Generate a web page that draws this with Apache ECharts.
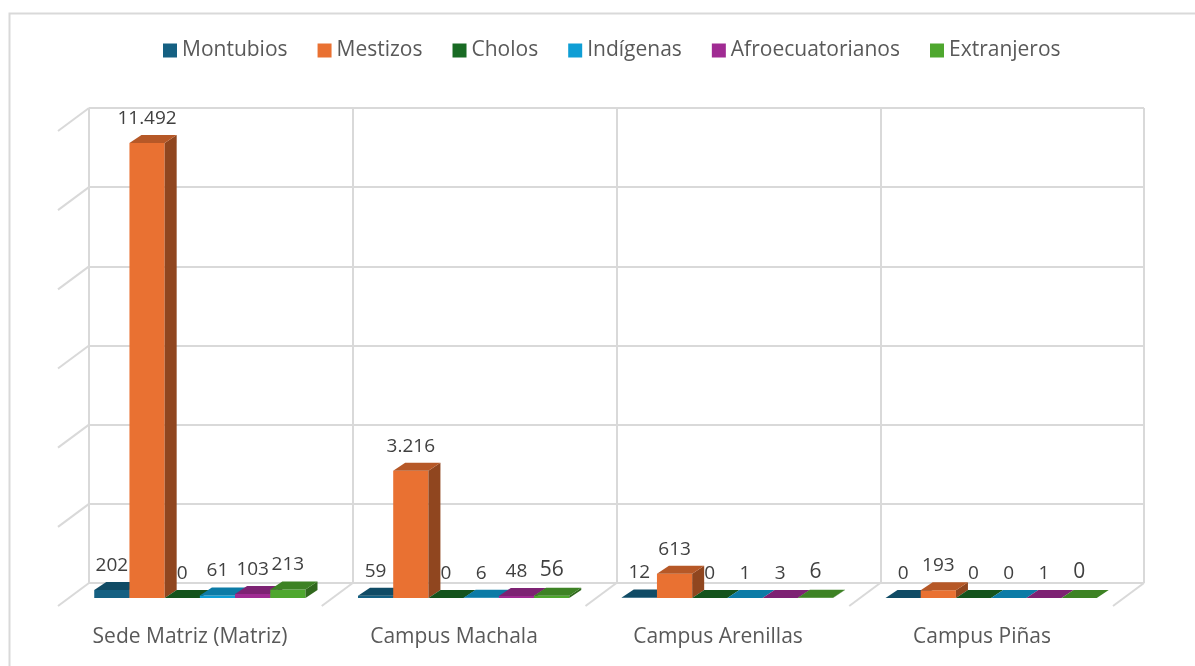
<!DOCTYPE html>
<html>
<head>
<meta charset="utf-8">
<script src="https://cdn.jsdelivr.net/npm/echarts@6/dist/echarts.min.js"></script>
<style>
  html, body { margin: 0; padding: 0; background: #fff; }
  #chart { width: 1195px; height: 666px; }
</style>
</head>
<body>
<div id="chart"></div>
<script>
// 数据
const campus = ['Sede Matriz (Matriz)', 'Campus Machala', 'Campus Arenillas', 'Campus Piñas'];
const montubios = [202, 59, 12, 0];
const mestizos = [11492, 3216, 613, 193];
const cholos = [0, 0, 0, 0];
const indigenas = [61, 6, 1, 0];
const afroecuatorianos = [103, 48, 3, 1];
const extranjeros = [213, 56, 6, 0];
const wallTicks = [0, 2000, 4000, 6000, 8000, 10000, 12000];

const groups = [
    { name: 'Montubios', data: montubios, color: '#156082' },
    { name: 'Mestizos', data: mestizos, color: '#E97132' },
    { name: 'Cholos', data: cholos, color: '#196B24' },
    { name: 'Indígenas', data: indigenas, color: '#0F9ED5' },
    { name: 'Afroecuatorianos', data: afroecuatorianos, color: '#A02B93' },
    { name: 'Extranjeros', data: extranjeros, color: '#4EA72E' }
];

const FONT = '"Open Sans", "Noto Sans", sans-serif';
const DX = 12, DY = -8;       // 柱子厚度
const WX = -31, WY = 23;      // 底面/侧墙斜线

// 颜色变暗
function shade(hex, f) {
    let n = parseInt(hex.slice(1), 16);
    let r = Math.round(((n >> 16) & 255) * f);
    let g = Math.round(((n >> 8) & 255) * f);
    let b = Math.round((n & 255) * f);
    return 'rgb(' + r + ',' + g + ',' + b + ')';
}

// 千位分隔符 11.492
function fmt(v) {
    return String(v).replace(/\B(?=(\d{3})+(?!\d))/g, '.');
}

function barRenderer(idx, color) {
    const topColor = shade(color, 0.78);
    const sideColor = shade(color, 0.62);
    return function (params, api) {
        let cat = api.value(0);
        let val = api.value(1);
        let base = api.coord([cat, 0]);
        let top = api.coord([cat, val]);
        let catW = api.size([1, 0])[0];
        let bw = catW * 0.1335;
        let x0 = base[0] + (idx - 2.5) * bw - bw / 2;
        let x1 = x0 + bw;
        let yt = top[1], yb = base[1];
        let fs = (idx === 5 && cat > 0) ? 21 : 19;
        return {
            type: 'group',
            children: [
                {
                    type: 'rect',
                    shape: { x: x0, y: yt, width: bw, height: yb - yt },
                    style: { fill: color }
                },
                {
                    type: 'polygon',
                    shape: { points: [[x1, yt], [x1 + DX, yt + DY], [x1 + DX, yb + DY], [x1, yb]] },
                    style: { fill: sideColor }
                },
                {
                    type: 'polygon',
                    shape: { points: [[x0, yt], [x0 + DX, yt + DY], [x1 + DX, yt + DY], [x1, yt]] },
                    style: { fill: topColor }
                },
                {
                    type: 'text',
                    z2: 10,
                    style: {
                        text: fmt(val),
                        x: (x0 + x1) / 2,
                        y: yt - 15,
                        align: 'center',
                        verticalAlign: 'bottom',
                        fill: '#404040',
                        fontSize: fs,
                        fontFamily: FONT
                    }
                }
            ]
        };
    };
}

const chart = echarts.init(document.querySelector('#chart'));

let series = [
    // 侧墙斜线
    {
        type: 'custom',
        silent: true,
        xAxisIndex: 1,
        yAxisIndex: 1,
        z: 1,
        data: wallTicks.map(v => [0, v]),
        renderItem: (params, api) => {
            let p = api.coord([0, api.value(1)]);
            let x = p[0] - api.size([1, 0])[0] / 2;
            return {
                type: 'line',
                shape: { x1: x, y1: p[1], x2: x + WX, y2: p[1] + WY },
                style: { stroke: '#D9D9D9', lineWidth: 2 }
            };
        }
    },
    // 底面斜线
    {
        type: 'custom',
        silent: true,
        xAxisIndex: 1,
        yAxisIndex: 1,
        z: 1,
        data: campus.map((c, i) => [i, 0]),
        renderItem: (params, api) => {
            let p = api.coord([api.value(0), 0]);
            let x = p[0] + api.size([1, 0])[0] / 2;
            return {
                type: 'line',
                shape: { x1: x, y1: p[1], x2: x + WX, y2: p[1] + WY },
                style: { stroke: '#D9D9D9', lineWidth: 2 }
            };
        }
    }
];

groups.forEach((g, i) => {
    series.push({
        name: g.name,
        type: 'custom',
        xAxisIndex: 0,
        yAxisIndex: 0,
        z: 5,
        clip: false,
        itemStyle: { color: g.color },
        encode: { x: 0, y: 1 },
        data: g.data.map((v, k) => [k, v]),
        renderItem: barRenderer(i, g.color)
    });
});

chart.setOption({
    animation: false,
    backgroundColor: '#fff',
    graphic: [
        {
            type: 'rect',
            left: 7,
            top: 11,
            shape: { width: 1200, height: 700 },
            style: { fill: 'none', stroke: '#D9D9D9', lineWidth: 2 },
            silent: true
        }
    ],
    legend: {
        top: 35,
        left: 158,
        icon: 'rect',
        itemWidth: 14,
        itemHeight: 14,
        itemGap: 30,
        textStyle: { fontSize: 21, color: '#595959', fontFamily: FONT },
        data: groups.map(g => g.name)
    },
    grid: [
        { left: 68, right: 72, top: 123, bottom: 68 },   // 柱子平面
        { left: 89, right: 51, top: 108, bottom: 83 },   // 后墙
        { left: 58, right: 81, top: 500, bottom: 60 }    // 底面前沿
    ],
    xAxis: [
        {
            gridIndex: 0,
            type: 'category',
            data: campus,
            show: false
        },
        {
            gridIndex: 1,
            type: 'category',
            data: campus,
            axisLine: { show: false },
            axisTick: { show: false },
            axisLabel: { show: false },
            splitLine: { show: true, lineStyle: { color: '#D9D9D9', width: 2 } }
        },
        {
            gridIndex: 2,
            type: 'category',
            data: campus,
            axisLine: { show: false },
            axisTick: { show: false },
            axisLabel: { color: '#595959', fontSize: 21, fontFamily: FONT, margin: 21 }
        }
    ],
    yAxis: [
        { gridIndex: 0, type: 'value', min: 0, max: 12000, show: false },
        {
            gridIndex: 1,
            type: 'value',
            min: 0,
            max: 12000,
            interval: 2000,
            axisLine: { show: false },
            axisTick: { show: false },
            axisLabel: { show: false },
            splitLine: { show: true, lineStyle: { color: '#D9D9D9', width: 2 } }
        },
        { gridIndex: 2, type: 'value', show: false }
    ],
    series: series
});
</script>
</body>
</html>
